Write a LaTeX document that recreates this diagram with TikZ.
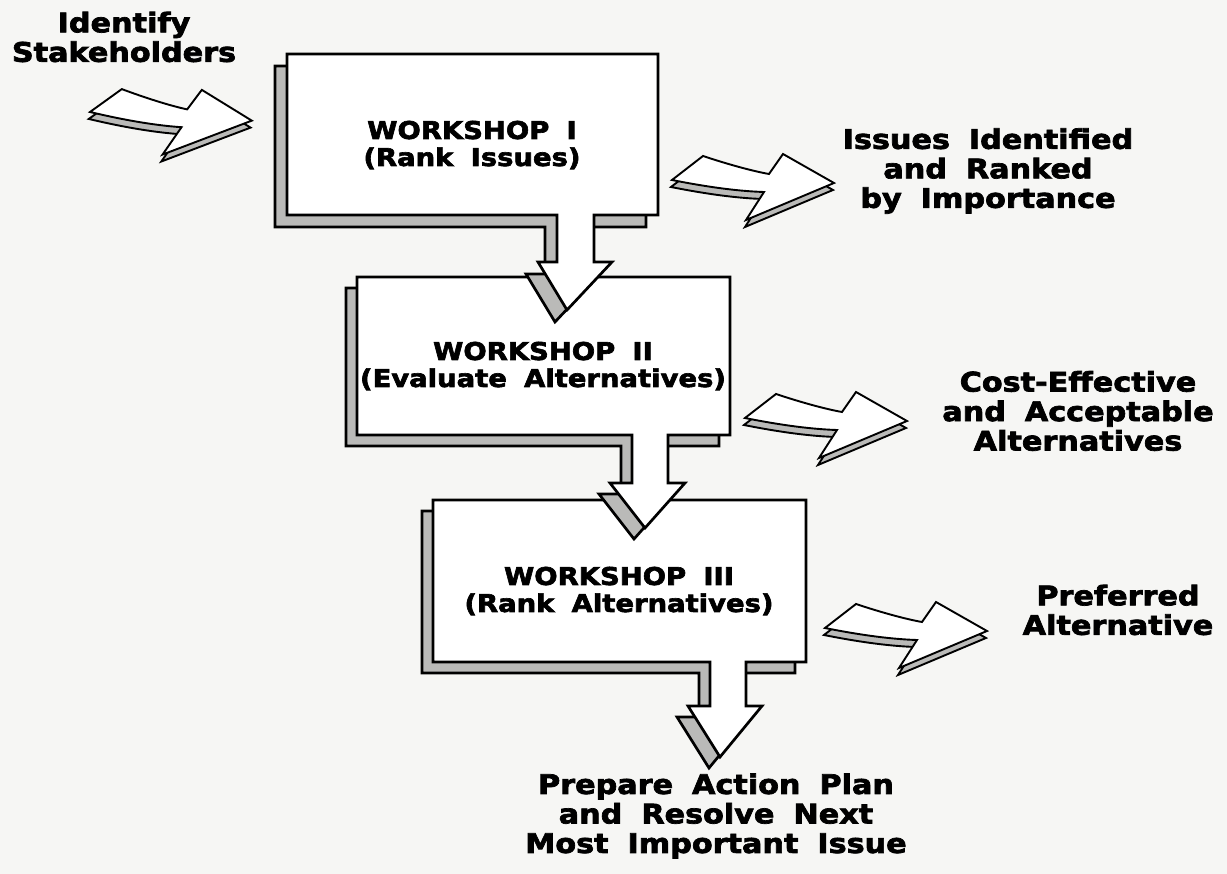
\documentclass[tikz,border=0pt]{standalone}
\usepackage{fontspec}
\newfontfamily\lblfont{DejaVu Sans}[FakeStretch=1.12,WordSpace=1.8,BoldFeatures={FakeBold=2.6}]
\definecolor{paper}{RGB}{246,246,244}
\definecolor{shade}{RGB}{186,186,184}
\tikzset{
  outline/.style={draw=black, line width=2.7pt, line join=miter},
  frontface/.style={outline, fill=white},
  backface/.style={outline, fill=shade},
  txtin/.style={font=\lblfont\bfseries\fontsize{24.5}{27}\selectfont, align=center, inner sep=0pt},
  txtout/.style={font=\lblfont\bfseries\fontsize{27}{29.5}\selectfont, align=center, inner sep=0pt},
  fatarrow/.pic={
    \draw[backface, line width=1.9pt, shift={(-1,7)}] (0,0) -- (31,-24) .. controls (55,-16) and (80,-9) .. (97,-6) -- (111,-26) -- (162,3) -- (74,40) -- (92,12) .. controls (60,11) and (25,5) .. cycle;
    \draw[frontface, line width=1.9pt] (0,0) -- (31,-24) .. controls (55,-16) and (80,-9) .. (97,-6) -- (111,-26) -- (162,3) -- (74,40) -- (92,12) .. controls (60,11) and (25,5) .. cycle;
  }
}
\begin{document}
\begin{tikzpicture}[x=1pt,y=-1pt]
\path[use as bounding box, fill=paper] (0,0) rectangle (1227,874);

% Workshop III box with outgoing arrow
\draw[backface, shift={(-11,11)}] (433,500) -- (806,500) -- (806,662) -- (746,662) -- (746,706) -- (762,706) -- (720,757) -- (688,706) -- (710,706) -- (710,662) -- (433,662) -- cycle;
\draw[frontface] (433,500) -- (806,500) -- (806,662) -- (746,662) -- (746,706) -- (762,706) -- (720,757) -- (688,706) -- (710,706) -- (710,662) -- (433,662) -- cycle;

% Workshop II box
\draw[backface, shift={(-11,11)}] (357,277) -- (730,277) -- (730,435) -- (668,435) -- (668,483) -- (685,483) -- (645,528) -- (610,483) -- (632,483) -- (632,435) -- (357,435) -- cycle;
\draw[frontface] (357,277) -- (730,277) -- (730,435) -- (668,435) -- (668,483) -- (685,483) -- (645,528) -- (610,483) -- (632,483) -- (632,435) -- (357,435) -- cycle;

% Workshop I box
\draw[backface, shift={(-12,12)}] (287,54) -- (658,54) -- (658,215) -- (594,215) -- (594,262) -- (612,262) -- (567,310) -- (538,262) -- (557,262) -- (557,215) -- (287,215) -- cycle;
\draw[frontface] (287,54) -- (658,54) -- (658,215) -- (594,215) -- (594,262) -- (612,262) -- (567,310) -- (538,262) -- (557,262) -- (557,215) -- (287,215) -- cycle;

% curved fat arrows
\pic[rotate=-2] (inarrow) at (90,112) {fatarrow};
\pic (outone) at (672,180) {fatarrow};
\pic (outtwo) at (745,418) {fatarrow};
\pic (outthree) at (825,628) {fatarrow};

% texts
\node[txtout] (stake) at (124,37) {Identify\\Stakeholders};
\node[txtin] (w1) at (472,145) {WORKSHOP  I\\(Rank  Issues)};
\node[txtin] (w2) at (543,366) {WORKSHOP  II\\(Evaluate  Alternatives)};
\node[txtin] (w3) at (619,591) {WORKSHOP  III\\(Rank  Alternatives)};
\node[txtout] (o1) at (988,171) {Issues Identified\\and Ranked\\by Importance};
\node[txtout] (o2) at (1078,411) {Cost-Effective\\and Acceptable\\Alternatives};
\node[txtout] (o3) at (1118,610) {Preferred\\Alternative};
\node[txtout] (o4) at (716,816) {Prepare Action Plan\\and Resolve Next\\Most Important Issue};
\end{tikzpicture}
\end{document}
